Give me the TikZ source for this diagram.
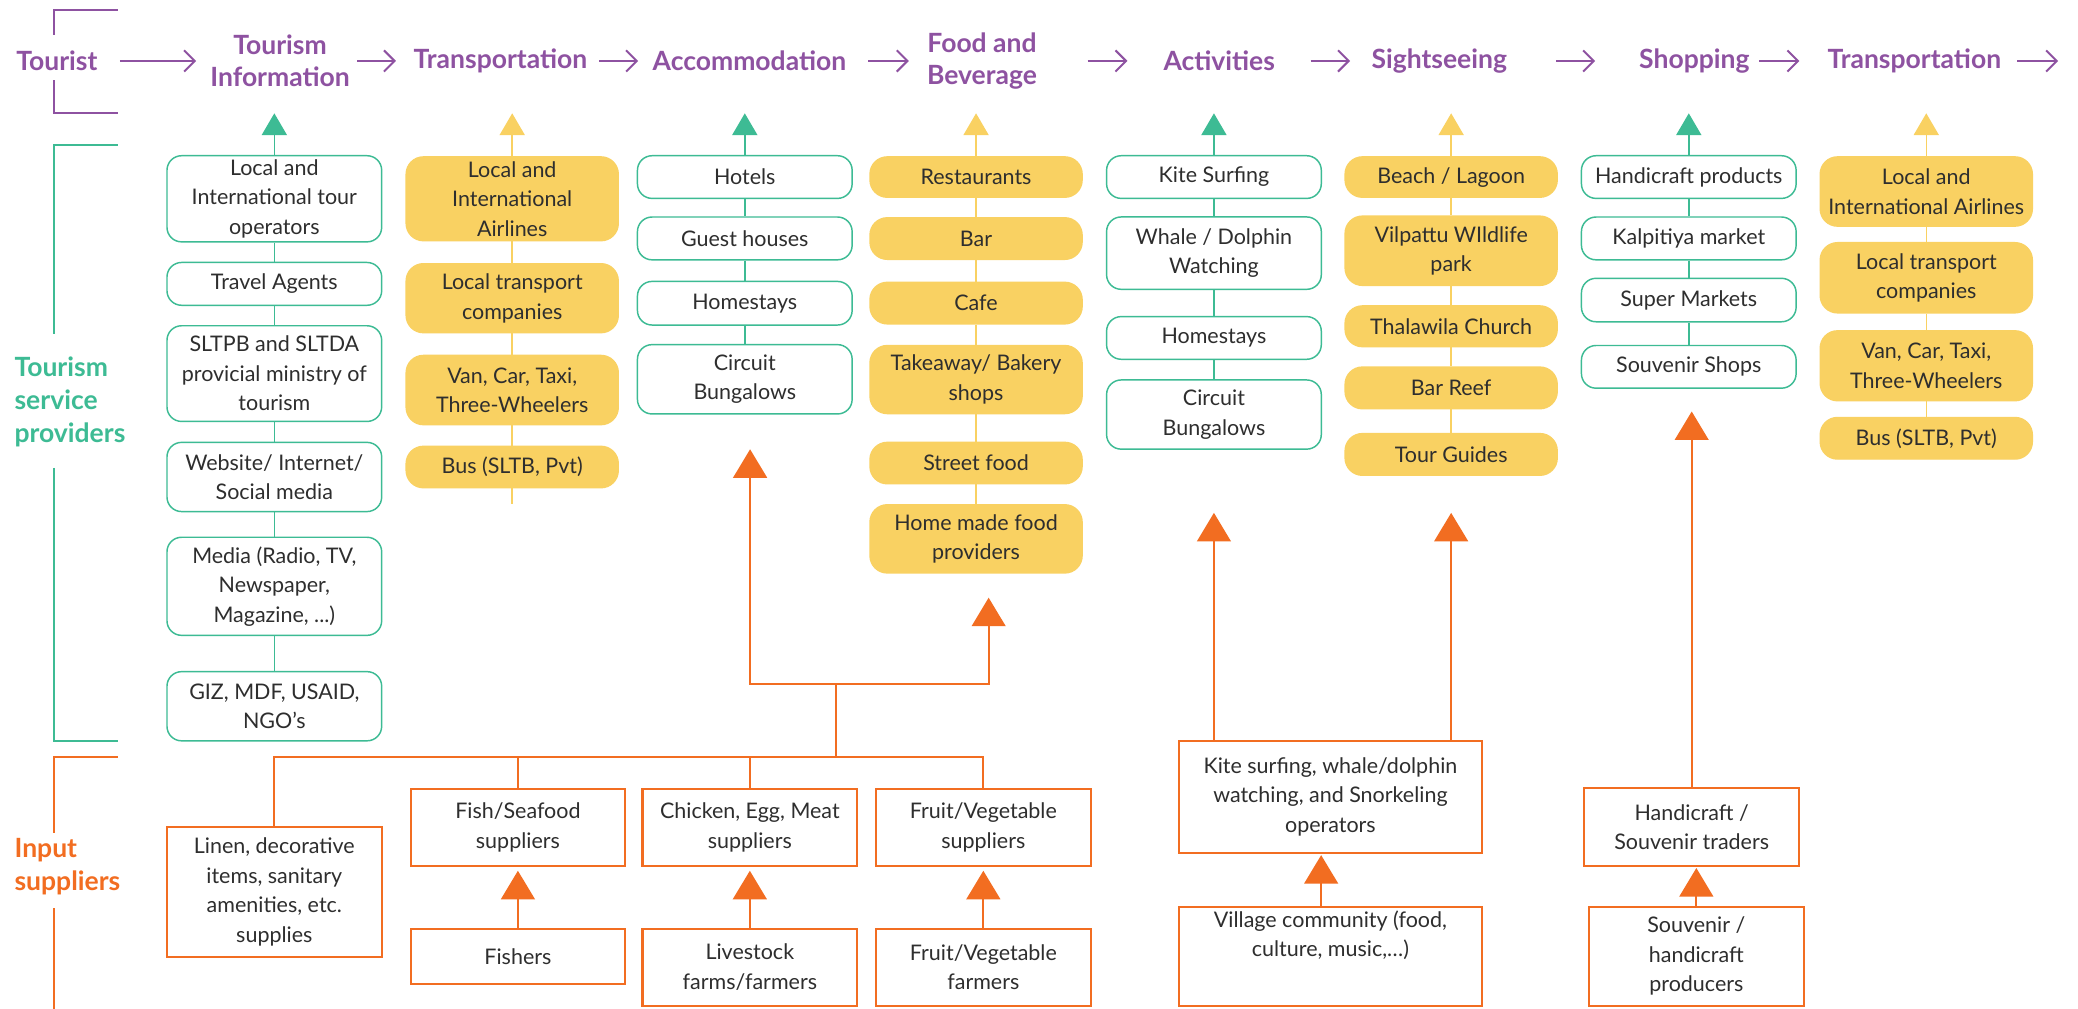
\documentclass[tikz,border=0pt]{standalone}
\usepackage{fontspec}
\setmainfont{Lato}
\usetikzlibrary{arrows.meta,calc}
\definecolor{tpurple}{HTML}{8E52A1}
\definecolor{tgreen}{HTML}{3DBB94}
\definecolor{tyellow}{HTML}{F9D162}
\definecolor{torange}{HTML}{F26D21}
\definecolor{ttext}{HTML}{2E2E2E}
\newcommand\boxfont{\fontsize{16.2}{22.3}\selectfont}
\newcommand\headfont{\fontsize{20}{24}\selectfont\bfseries}
\newcommand\sidefont{\fontsize{20}{25}\selectfont\bfseries}
\tikzset{
  box/.style={rectangle, align=center, font=\boxfont, text=ttext, inner sep=2pt},
  gbox/.style={box, draw=tgreen, line width=1.1pt, fill=white, rounded corners=11pt, minimum width=162pt},
  ybox/.style={box, draw=tyellow, line width=1.1pt, fill=tyellow, rounded corners=13pt, minimum width=160pt},
  obox/.style={box, draw=torange, line width=1.6pt, fill=white, minimum width=162pt},
  head/.style={font=\headfont, text=tpurple, align=center, inner sep=0pt},
  side/.style={font=\sidefont, align=left, anchor=west, inner sep=0pt},
  gline/.style={draw=tgreen, line width=1.1pt},
  yline/.style={draw=tyellow, line width=1.1pt},
  oline/.style={draw=torange, line width=1.4pt},
  bracket/.style={line width=1.5pt},
  garrow/.style={gline, -{Triangle[length=16.5pt,width=19pt]}},
  yarrow/.style={yline, -{Triangle[length=16.5pt,width=19pt]}},
  oarrow/.style={oline, -{Triangle[length=21.5pt,width=25.5pt]}},
  parrow/.style={draw=tpurple, line width=1.5pt, -{Straight Barb[length=8pt,width=16pt]}}
}
\begin{document}
\begin{tikzpicture}[x=1pt,y=-1pt]
\fill[white] (0,0) rectangle (1568,761);
\useasboundingbox (0,0) rectangle (1568,761);
\coordinate (top) at (0,85.5);
\coordinate (hend) at (1553,46);

\node[head, minimum width=62.2pt] (h0) at (42.9,46) {Tourist};
\node[head, minimum width=106.1pt] (h1) at (211.35,46) {Tourism\\Information};
\node[head, minimum width=135.3pt] (h2) at (377.65,46) {Transportation};
\node[head, minimum width=151pt] (h3) at (565.5,46) {Accommodation};
\node[head, minimum width=82.9pt] (h4) at (741,46) {Food and\\Beverage};
\node[head, minimum width=84pt] (h5) at (920,46) {Activities};
\node[head, minimum width=102pt] (h6) at (1086,46) {Sightseeing};
\node[head, minimum width=83pt] (h7) at (1278.5,46) {Shopping};
\node[head, minimum width=137pt] (h8) at (1444.5,46) {Transportation};
\foreach \a/\b/\p/\q in {h0/h1/16.3/10.1, h1/h2/5/11, h2/h3/6.7/8.3, h3/h4/14/13.6, h4/h5/38.1/27, h5/h6/26.6/16, h6/h7/37/33, h7/h8/7/18}
  \draw[parrow, shorten <=\p pt, shorten >=\q pt] (\a) -- (\b);
\draw[parrow, shorten <=9pt] (h8) -- (hend);

\draw[bracket, tpurple] (89,7.5) -| (40.4,26.4);
\draw[bracket, tpurple] (40.4,60.4) |- (89,85.3);
\draw[bracket, tgreen] (89,109.4) -| (40.4,251.7);
\draw[bracket, tgreen] (40.4,353) |- (89,559);
\node[side, text=tgreen] (tsp) at (10.8,303) {Tourism\\service\\providers};
\draw[bracket, torange] (89,571) -| (40.4,628.8);
\draw[bracket, torange] (40.4,685.4) -- (40.4,761);
\node[side, text=torange] (isp) at (10.8,654) {Input\\suppliers};

\node[gbox, minimum height=65pt] (ti1) at (207,150) {Local and\\International tour\\operators};
\node[gbox, minimum height=32.3pt] (ti2) at (207,214.2) {Travel Agents};
\node[gbox, minimum height=72.2pt] (ti3) at (207,281.9) {SLTPB and SLTDA\\provicial ministry of\\tourism};
\node[gbox, minimum height=52.2pt] (ti4) at (207,359.9) {Website/ Internet/\\Social media};
\node[gbox, minimum height=74pt] (ti5) at (207,442.4) {Media (Radio, TV,\\Newspaper,\\Magazine, ...)};
\node[gbox, minimum height=52.2pt] (ti6) at (207,532.9) {GIZ, MDF, USAID,\\NGO's};
\draw[gline] (ti1) -- (ti2) -- (ti3) -- (ti4) -- (ti5) -- (ti6);
\draw[garrow] (ti1.north) -- (ti1.north |- top);

\node[ybox, minimum height=63.2pt] (tr1) at (386.5,150) {Local and\\International\\Airlines};
\node[ybox, minimum height=52pt] (tr2) at (386.5,225) {Local transport\\companies};
\node[ybox, minimum height=52.2pt] (tr3) at (386.5,294.3) {Van, Car, Taxi,\\Three-Wheelers};
\node[ybox, minimum height=31.2pt] (tr4) at (386.5,352.4) {Bus (SLTB, Pvt)};
\coordinate (tr5) at (386.5,380);
\draw[yline] (tr1) -- (tr2) -- (tr3) -- (tr4) -- (tr5);
\draw[yarrow] (tr1.north) -- (tr1.north |- top);

\node[gbox, minimum height=32.2pt] (ac1) at (562,133.6) {Hotels};
\node[gbox, minimum height=32.3pt] (ac2) at (562,179.9) {Guest houses};
\node[gbox, minimum height=32.9pt] (ac3) at (562,228.8) {Homestays};
\node[gbox, minimum height=52.3pt] (ac4) at (562,286.2) {Circuit\\Bungalows};
\draw[gline] (ac1) -- (ac2) -- (ac3) -- (ac4);
\draw[garrow] (ac1.north) -- (ac1.north |- top);

\node[ybox, minimum height=30.4pt] (fb1) at (736.5,133.6) {Restaurants};
\node[ybox, minimum height=31.3pt] (fb2) at (736.5,180) {Bar};
\node[ybox, minimum height=31.3pt] (fb3) at (736.5,228.7) {Cafe};
\node[ybox, minimum height=51.3pt] (fb4) at (736.5,286.4) {Takeaway/ Bakery\\shops};
\node[ybox, minimum height=31.2pt] (fb5) at (736.5,349.4) {Street food};
\node[ybox, minimum height=51.4pt] (fb6) at (736.5,406.6) {Home made food\\providers};
\draw[yline] (fb1) -- (fb2) -- (fb3) -- (fb4) -- (fb5) -- (fb6);
\draw[yarrow] (fb1.north) -- (fb1.north |- top);

\node[gbox, minimum height=32.2pt] (at1) at (916,133.6) {Kite Surfing};
\node[gbox, minimum height=54.6pt] (at2) at (916,191) {Whale / Dolphin\\Watching};
\node[gbox, minimum height=32.2pt] (at3) at (916,255) {Homestays};
\node[gbox, minimum height=52.2pt] (at4) at (916,312.8) {Circuit\\Bungalows};
\draw[gline] (at1) -- (at2) -- (at3) -- (at4);
\draw[garrow] (at1.north) -- (at1.north |- top);

\node[ybox, minimum height=30.4pt] (ss1) at (1095,133.6) {Beach / Lagoon};
\node[ybox, minimum height=52.2pt] (ss2) at (1095,189.2) {Vilpattu WIldlife\\park};
\node[ybox, minimum height=30.7pt] (ss3) at (1095,246.2) {Thalawila Church};
\node[ybox, minimum height=31.4pt] (ss4) at (1095,292.7) {Bar Reef};
\node[ybox, minimum height=31.4pt] (ss5) at (1095,342.9) {Tour Guides};
\draw[yline] (ss1) -- (ss2) -- (ss3) -- (ss4) -- (ss5);
\draw[yarrow] (ss1.north) -- (ss1.north |- top);

\node[gbox, minimum height=32.2pt] (sh1) at (1274.3,133.6) {Handicraft products};
\node[gbox, minimum height=32.3pt] (sh2) at (1274.3,179.9) {Kalpitiya market};
\node[gbox, minimum height=32.8pt] (sh3) at (1274.3,226.4) {Super Markets};
\node[gbox, minimum height=32.2pt] (sh4) at (1274.3,276.8) {Souvenir Shops};
\draw[gline] (sh1) -- (sh2) -- (sh3) -- (sh4);
\draw[garrow] (sh1.north) -- (sh1.north |- top);

\node[ybox, minimum height=52.2pt] (tp1) at (1453.5,144.5) {Local and\\International Airlines};
\node[ybox, minimum height=52.9pt] (tp2) at (1453.5,209.6) {Local transport\\companies};
\node[ybox, minimum height=52.7pt] (tp3) at (1453.5,276) {Van, Car, Taxi,\\Three-Wheelers};
\node[ybox, minimum height=31.3pt] (tp4) at (1453.5,330.7) {Bus (SLTB, Pvt)};
\draw[yline] (tp1) -- (tp2) -- (tp3) -- (tp4);
\draw[yarrow] (tp1.north) -- (tp1.north |- top);

\node[obox, minimum height=98.1pt] (lin) at (207,672.9) {Linen, decorative\\items, sanitary\\amenities, etc.\\supplies};
\node[obox, minimum height=57.9pt] (fish) at (390.8,624.3) {Fish/Seafood\\suppliers};
\node[obox, minimum height=41.5pt] (fsh) at (390.8,721.8) {Fishers};
\node[obox, minimum height=57.9pt] (chk) at (565.8,624.3) {Chicken, Egg, Meat\\suppliers};
\node[obox, minimum height=57.8pt] (lvs) at (565.8,729.9) {Livestock\\farms/farmers};
\node[obox, minimum height=57.9pt] (fru) at (742,624.3) {Fruit/Vegetable\\suppliers};
\node[obox, minimum height=57.8pt] (frf) at (742,729.9) {Fruit/Vegetable\\farmers};
\node[obox, minimum width=229.2pt, minimum height=84.5pt] (kso) at (1003.9,601.2) {Kite surfing, whale/dolphin\\watching, and Snorkeling\\operators};
\node[obox, minimum width=229.2pt, minimum height=74.7pt] (vlg) at (1003.9,721.5) {Village community (food,\\culture, music,…)\\[12pt]};
\node[obox, minimum height=58.4pt] (hst) at (1276.5,624) {Handicraft /\\Souvenir traders};
\node[obox, minimum height=74.7pt] (shp) at (1280,721.5) {Souvenir /\\handicraft\\producers};

\coordinate (hub) at (630.8,515.8);
\coordinate (trunk) at (630.8,571);
\coordinate (oa3) at (566,339);
\coordinate (oa4) at (746,451);
\coordinate (oa5) at (916,387);
\coordinate (oa6) at (1095,387);
\coordinate (oa7) at (1276.5,310.5);
\draw[oline] (lin.north) |- (trunk) -- (hub);
\draw[oline] (fru.north) |- (trunk);
\draw[oline] (fish.north) -- (fish.north |- trunk);
\draw[oline] (chk.north) -- (chk.north |- trunk);
\draw[oarrow] (hub) -| (oa3);
\draw[oarrow] (hub) -| (oa4);
\draw[oarrow] (kso.north -| oa5) -- (oa5);
\draw[oarrow] (kso.north -| oa6) -- (oa6);
\draw[oarrow] (hst.north) -- (oa7);
\draw[oarrow, shorten >=3pt] (fsh) -- (fish);
\draw[oarrow, shorten >=3pt] (lvs) -- (chk);
\draw[oarrow, shorten >=3pt] (frf) -- (fru);
\draw[oarrow, shorten >=1pt] ([xshift=-7pt]vlg.north) -- ([xshift=-7pt]kso.south);
\draw[oarrow, shorten >=1pt] (shp.north) -- (shp.north |- hst.south);
\end{tikzpicture}
\end{document}
